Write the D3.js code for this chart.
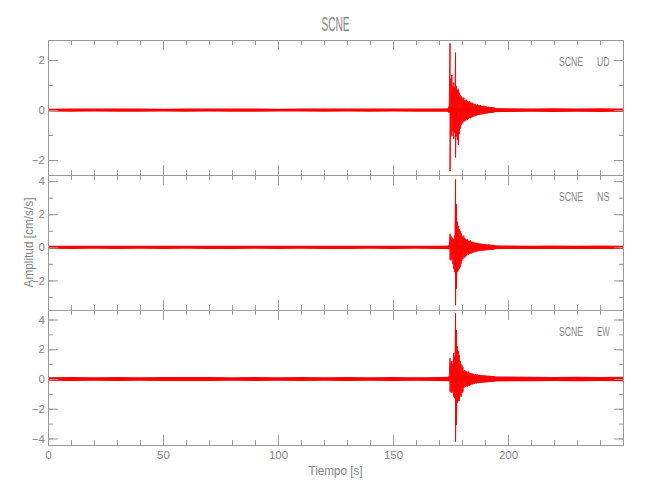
<!DOCTYPE html>
<html><head><meta charset="utf-8">
<script src="https://cdn.jsdelivr.net/npm/d3@7"></script>
<style>
body{margin:0;background:#fff;}
svg text{font-family:"Liberation Sans", Arial, sans-serif;}
</style></head><body>
<svg id="chart" width="650" height="500"></svg>
<script>
// ---------- data ----------
const title = "SCNE";
const station = "SCNE";
const components = ["UD", "NS", "EW"];
const xLabel = "Tiempo [s]";
const yLabel = "Amplitud [cm/s/s]";
const xDomain = [0, 250];
const xTickValues = [0, 50, 100, 150, 200];
const yDomainUD = [-2.6, 2.8];
const yDomainNS = [-3.79, 4.37];
const yDomainEW = [-4.44, 4.64];
const yTicksUD = [-2, 0, 2];
const yTicksNS = [-2, 0, 2, 4];
const yTicksEW = [-4, -2, 0, 2, 4];

// background noise half-width (envelope) read every 10 s
const noiseTime = [0,10,20,30,40,50,60,70,80,90,100,110,120,130,140,150,160,170,180,190,200,210,220,230,240,250];
const noiseUD = [0.055,0.065,0.06,0.065,0.065,0.055,0.065,0.06,0.065,0.065,0.055,0.06,0.065,0.06,0.065,0.06,0.065,0.065,0.08,0.085,0.075,0.065,0.075,0.065,0.075,0.065];
const noiseNS = [0.09,0.10,0.09,0.10,0.09,0.10,0.09,0.10,0.10,0.09,0.10,0.09,0.10,0.10,0.09,0.10,0.09,0.10,0.12,0.12,0.11,0.10,0.11,0.10,0.11,0.10];
const noiseEW = [0.12,0.13,0.12,0.13,0.12,0.13,0.14,0.13,0.12,0.13,0.12,0.13,0.12,0.13,0.12,0.13,0.12,0.13,0.17,0.17,0.16,0.15,0.14,0.15,0.14,0.15];

// event burst: upper / lower peaks read every 0.4 s
const burstTime = [174.0,174.4,174.8,175.2,175.6,176.0,176.4,176.8,177.2,177.6,178.0,178.4,178.8,179.2,179.6,180.0,180.4,180.8,181.2,181.6,182.0,182.4,182.8,183.2,183.6,184.0,184.4,184.8,185.2,185.6,186.0,186.4,186.8,187.2,187.6,188.0,188.4,188.8,189.2,189.6,190.0,190.4,190.8,191.2,191.6,192.0,192.4,192.8,193.2,193.6,194.0];
const burstMaxUD = [0.08,0.15,2.67,1.25,1.40,0.95,1.10,0.90,2.30,0.95,0.80,0.85,0.70,0.60,0.55,0.50,0.45,0.50,0.40,0.38,0.42,0.35,0.33,0.36,0.30,0.28,0.30,0.26,0.24,0.25,0.22,0.20,0.22,0.19,0.18,0.20,0.17,0.16,0.17,0.15,0.14,0.15,0.13,0.12,0.13,0.12,0.11,0.12,0.10,0.11,0.10];
const burstMinUD = [-0.08,-0.12,-2.44,-0.95,-1.05,-0.85,-1.15,-0.90,-1.90,-1.05,-1.20,-1.40,-0.95,-0.75,-0.60,-0.55,-0.50,-0.45,-0.45,-0.42,-0.38,-0.40,-0.35,-0.32,-0.33,-0.30,-0.27,-0.28,-0.26,-0.22,-0.24,-0.22,-0.20,-0.20,-0.19,-0.17,-0.18,-0.17,-0.15,-0.16,-0.15,-0.13,-0.14,-0.13,-0.12,-0.12,-0.12,-0.11,-0.11,-0.10,-0.10];
const burstMaxNS = [0.10,0.12,0.82,0.70,0.60,0.55,0.50,0.70,4.10,2.60,1.55,1.30,1.10,1.00,0.85,0.70,0.62,0.70,0.55,0.50,0.45,0.50,0.40,0.38,0.42,0.35,0.32,0.34,0.30,0.27,0.28,0.25,0.24,0.25,0.22,0.21,0.22,0.20,0.19,0.20,0.18,0.17,0.18,0.16,0.17,0.15,0.16,0.15,0.14,0.15,0.14];
const burstMinNS = [-0.10,-0.12,-0.75,-0.80,-0.70,-1.00,-1.30,-1.50,-3.50,-2.50,-1.50,-1.40,-1.30,-1.20,-1.00,-0.80,-0.70,-0.60,-0.62,-0.55,-0.50,-0.42,-0.45,-0.40,-0.36,-0.38,-0.34,-0.30,-0.30,-0.29,-0.26,-0.27,-0.24,-0.22,-0.23,-0.22,-0.20,-0.20,-0.20,-0.18,-0.19,-0.18,-0.17,-0.17,-0.15,-0.16,-0.15,-0.15,-0.15,-0.14,-0.14];
const burstMaxEW = [0.12,0.20,1.40,1.15,1.20,1.00,1.75,1.50,4.41,3.30,2.20,1.90,1.60,1.20,1.00,0.90,0.80,0.55,0.60,0.50,0.52,0.45,0.50,0.42,0.40,0.38,0.35,0.36,0.32,0.30,0.33,0.28,0.30,0.27,0.28,0.25,0.27,0.24,0.25,0.23,0.24,0.22,0.23,0.21,0.22,0.20,0.21,0.20,0.19,0.20,0.19];
const burstMinEW = [-0.12,-0.15,-0.85,-0.90,-0.95,-0.85,-1.20,-1.30,-4.21,-3.10,-1.60,-1.45,-1.50,-1.10,-1.20,-0.95,-0.85,-0.60,-0.50,-0.55,-0.48,-0.50,-0.45,-0.45,-0.42,-0.35,-0.38,-0.32,-0.34,-0.30,-0.28,-0.30,-0.27,-0.28,-0.25,-0.27,-0.24,-0.25,-0.23,-0.24,-0.22,-0.23,-0.21,-0.22,-0.20,-0.21,-0.20,-0.20,-0.20,-0.19,-0.19];

(function () {
// ---------- layout ----------
const padL = 48, padR = 623, padT = 40, panelH = 135;
const axisColor = "#9a9a9a", textColor = "#858585", traceColor = "#ff0000";

const panels = [
  {comp: components[0], dom: yDomainUD, ticks: yTicksUD, noise: noiseUD, bmax: burstMaxUD, bmin: burstMinUD},
  {comp: components[1], dom: yDomainNS, ticks: yTicksNS, noise: noiseNS, bmax: burstMaxNS, bmin: burstMinNS},
  {comp: components[2], dom: yDomainEW, ticks: yTicksEW, noise: noiseEW, bmax: burstMaxEW, bmin: burstMinEW}
];

const svg = d3.select("#chart");
const x = d3.scaleLinear().domain(xDomain).range([padL, padR]);
const xMinor = d3.range(xDomain[0], xDomain[1] + 0.001, 10);
const intFmt = d3.format("d");

function styleAxis(g) {
  g.selectAll("path.domain").attr("stroke", axisColor);
  g.selectAll(".tick line").attr("stroke", axisColor);
  g.selectAll(".tick text").attr("fill", textColor).style("font-size", "11.5px")
   .style("font-family", "'Liberation Sans', Arial, sans-serif");
}

panels.forEach((p, i) => {
  const y0 = padT + i * panelH, y1 = y0 + panelH;
  const y = d3.scaleLinear().domain(p.dom).range([y1, y0]);
  const g = svg.append("g");

  const clipId = "clip" + i;
  svg.append("clipPath").attr("id", clipId).append("rect")
    .attr("x", padL).attr("y", y0).attr("width", padR - padL).attr("height", panelH);

  const trace = g.append("g").attr("clip-path", `url(#${clipId})`);
  const noiseData = noiseTime.map((t, k) => ({t, a: p.noise[k]}));
  trace.append("path").datum(noiseData)
    .attr("fill", traceColor).attr("stroke", "none")
    .attr("d", d3.area().x(d => x(d.t)).y0(d => y(-d.a)).y1(d => y(d.a)));
  const zig = [];
  burstTime.forEach((t, k) => { zig.push({t, v: p.bmax[k]}); zig.push({t, v: p.bmin[k]}); });
  trace.append("path").datum(zig)
    .attr("fill", "none").attr("stroke", traceColor).attr("stroke-width", 1)
    .attr("d", d3.line().x(d => x(d.t)).y(d => y(d.v)));

  const minorY = d3.range(Math.ceil(p.dom[0]), Math.floor(p.dom[1]) + 0.001, 1);

  g.append("g").attr("transform", `translate(${padL},0)`)
    .call(d3.axisLeft(y).tickValues(minorY).tickSize(-5).tickSizeOuter(0).tickFormat(""))
    .call(styleAxis);
  g.append("g").attr("transform", `translate(${padL},0)`)
    .call(d3.axisLeft(y).tickValues(p.ticks).tickSize(-10).tickSizeOuter(0).tickPadding(3).tickFormat(intFmt))
    .call(styleAxis);
  g.append("g").attr("transform", `translate(${padR},0)`)
    .call(d3.axisRight(y).tickValues(minorY).tickSize(-4).tickSizeOuter(0).tickFormat(""))
    .call(styleAxis);
  g.append("g").attr("transform", `translate(${padR},0)`)
    .call(d3.axisRight(y).tickValues(p.ticks).tickSize(-9).tickSizeOuter(0).tickFormat(""))
    .call(styleAxis);
  g.append("g").attr("transform", `translate(0,${y0})`)
    .call(d3.axisTop(x).tickValues(xMinor).tickSize(-5).tickSizeOuter(0).tickFormat(""))
    .call(styleAxis);
  g.append("g").attr("transform", `translate(0,${y0})`)
    .call(d3.axisTop(x).tickValues(xTickValues).tickSize(-10).tickSizeOuter(0).tickFormat(""))
    .call(styleAxis);
  g.append("g").attr("transform", `translate(0,${y1})`)
    .call(d3.axisBottom(x).tickValues(xMinor).tickSize(-5).tickSizeOuter(0).tickFormat(""))
    .call(styleAxis);
  const bottomMajor = d3.axisBottom(x).tickValues(xTickValues).tickSize(-10).tickSizeOuter(0).tickPadding(6)
    .tickFormat(i < panels.length - 1 ? "" : intFmt);
  g.append("g").attr("transform", `translate(0,${y1})`)
    .call(bottomMajor).call(styleAxis);

  g.append("text").attr("x", 559).attr("y", y0 + 26)
    .attr("fill", textColor).style("font-size", "13.5px")
    .attr("textLength", 24).attr("lengthAdjust", "spacingAndGlyphs").text(station);
  g.append("text").attr("x", 597).attr("y", y0 + 26)
    .attr("fill", textColor).style("font-size", "13.5px")
    .attr("textLength", 12.5).attr("lengthAdjust", "spacingAndGlyphs").text(p.comp);
});

svg.append("text").attr("x", (padL + padR) / 2).attr("y", 31)
  .attr("text-anchor", "middle").attr("fill", textColor).style("font-size", "21px")
  .attr("textLength", 28).attr("lengthAdjust", "spacingAndGlyphs").text(title);

svg.append("text").attr("x", (padL + padR) / 2).attr("y", 475)
  .attr("text-anchor", "middle").attr("fill", textColor).style("font-size", "13px")
  .attr("textLength", 54).attr("lengthAdjust", "spacingAndGlyphs").text(xLabel);

svg.append("text").attr("transform", `translate(33,${padT + panelH * 1.5}) rotate(-90)`)
  .attr("text-anchor", "middle").attr("fill", textColor).style("font-size", "13px")
  .attr("textLength", 90).attr("lengthAdjust", "spacingAndGlyphs").text(yLabel);
})();
</script>
</body></html>
